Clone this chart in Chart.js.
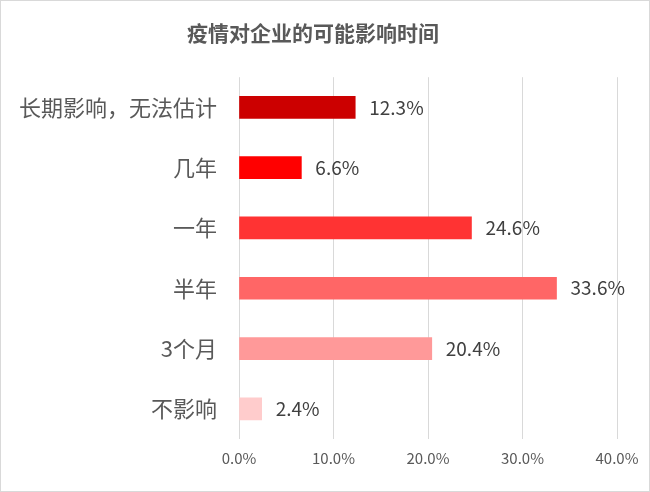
<!DOCTYPE html>
<html lang="zh">
<head>
<meta charset="UTF-8">
<title>疫情对企业的可能影响时间</title>
<script src="https://cdn.jsdelivr.net/npm/chart.js"></script>
<style>
  body { margin: 0; background: #fff; }
  #wrap { width: 648px; height: 490px; border: 1px solid #d9d9d9; }
</style>
</head>
<body>
<div id="wrap"><canvas id="c" width="648" height="490"></canvas></div>
<script>
const categories = ["长期影响，无法估计", "几年", "一年", "半年", "3个月", "不影响"];
const values = [12.3, 6.6, 24.6, 33.6, 20.4, 2.4];
const barColors = ["#CC0000", "#FF0000", "#FF3333", "#FF6666", "#FF9999", "#FFCCCC"];
const xTicks = [0, 10, 20, 30, 40];

const FONT = "'Noto Sans CJK SC', 'Noto Sans', sans-serif";

// draws the "12.3%" labels to the right of each bar
const valueLabels = {
  id: "valueLabels",
  afterDatasetsDraw(chart) {
    const ctx = chart.ctx;
    const meta = chart.getDatasetMeta(0);
    ctx.save();
    ctx.font = "19px " + FONT;
    ctx.fillStyle = "#404040";
    ctx.textBaseline = "middle";
    meta.data.forEach((bar, i) => {
      ctx.fillText(values[i].toFixed(1) + "%", bar.x + 14, bar.y);
    });
    ctx.restore();
  }
};

new Chart(document.getElementById("c"), {
  type: "bar",
  data: {
    labels: categories,
    datasets: [{
      data: values,
      backgroundColor: barColors,
      barThickness: 22
    }]
  },
  options: {
    indexAxis: "y",
    responsive: false,
    animation: false,
    layout: { padding: { left: 8, right: 32, top: 9, bottom: 14 } },
    plugins: {
      legend: { display: false },
      tooltip: { enabled: false },
      title: {
        display: true,
        text: "疫情对企业的可能影响时间",
        color: "#595959",
        font: { family: FONT, size: 21, weight: "bold" },
        padding: { top: 10, bottom: 32 }
      }
    },
    scales: {
      x: {
        min: 0, max: 40,
        afterBuildTicks(scale) { scale.ticks = xTicks.map(v => ({ value: v })); },
        ticks: {
          callback: v => v.toFixed(1) + "%",
          color: "#595959",
          font: { family: FONT, size: 15 },
          padding: 10
        },
        grid: { color: "#d9d9d9", drawTicks: false },
        border: { display: false }
      },
      y: {
        afterFit(scale) { scale.width = 230; },
        ticks: {
          color: "#595959",
          font: { family: FONT, size: 22 },
          padding: 14
        },
        grid: { display: false },
        border: { display: false }
      }
    }
  },
  plugins: [valueLabels]
});
</script>
</body>
</html>
